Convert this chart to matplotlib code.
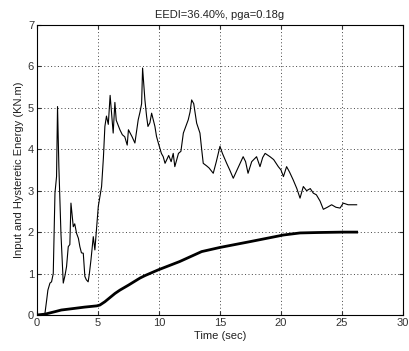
import matplotlib
matplotlib.use("Agg")
import matplotlib.pyplot as plt

# Input energy (thin line)
t_input = [0.0, 0.3, 0.6, 0.66, 0.8, 0.9, 1.07, 1.2, 1.34, 1.48, 1.61, 1.69, 1.8, 1.97, 2.16, 2.3,
           2.43, 2.57, 2.7, 2.79, 2.98, 3.1, 3.25, 3.4, 3.52, 3.65, 3.8, 3.93, 4.05, 4.2, 4.3, 4.43,
           4.62, 4.75, 5.03, 5.3, 5.45, 5.57, 5.7, 5.85, 6.0, 6.25, 6.39, 6.5, 6.8, 7.0, 7.2, 7.4,
           7.5, 7.8, 8.03, 8.3, 8.45, 8.58, 8.66, 8.85, 8.99, 9.1, 9.26, 9.4, 9.67, 9.8, 9.95, 10.2,
           10.35, 10.5, 10.8, 11.0, 11.17, 11.3, 11.6, 11.8, 12.0, 12.2, 12.4, 12.55, 12.68, 12.85,
           13.09, 13.36, 13.5, 13.63, 13.9, 14.1, 14.45, 14.7, 15.0, 15.2, 15.55, 15.8, 16.09, 16.4,
           16.9, 17.1, 17.3, 17.6, 18.0, 18.28, 18.5, 18.7, 19.1, 19.4, 19.78, 20.0, 20.2, 20.46,
           20.7, 21.0, 21.3, 21.56, 21.83, 22.1, 22.4, 22.65, 22.9, 23.2, 23.47, 23.8, 24.15, 24.5,
           24.84, 25.1, 25.5, 25.8, 26.2]
e_input = [0.0, 0.0, 0.02, 0.04, 0.36, 0.6, 0.77, 0.8, 1.0, 2.94, 3.34, 5.03, 3.58, 1.97, 0.77, 0.95,
           1.17, 1.65, 1.7, 2.7, 2.13, 2.2, 1.97, 1.85, 1.65, 1.5, 1.49, 0.93, 0.85, 0.8, 1.0, 1.33,
           1.89, 1.57, 2.62, 3.1, 3.8, 4.55, 4.8, 4.6, 5.3, 4.39, 5.13, 4.7, 4.47, 4.35, 4.3, 4.1,
           4.47, 4.3, 4.15, 4.71, 4.9, 5.1, 5.96, 5.19, 4.79, 4.55, 4.64, 4.87, 4.55, 4.31, 4.15, 3.9,
           3.82, 3.66, 3.85, 3.7, 3.9, 3.58, 3.9, 3.95, 4.39, 4.55, 4.71, 4.9, 5.19, 5.1,
           4.63, 4.39, 4.0, 3.66, 3.6, 3.55, 3.42, 3.7, 4.07, 3.9, 3.66, 3.5, 3.3, 3.5,
           3.82, 3.7, 3.42, 3.7, 3.82, 3.58, 3.8, 3.9, 3.82, 3.75, 3.58, 3.5, 3.34, 3.58,
           3.45, 3.26, 3.05, 2.82, 3.1, 3.0, 3.05, 2.94, 2.9, 2.75, 2.55, 2.6, 2.66, 2.6,
           2.58, 2.7, 2.66, 2.66, 2.66]

# Hysteretic energy (thick line)
t_hyst = [0.0, 0.66, 1.48, 2.0, 3.1, 3.9, 4.9, 5.16, 5.57, 6.4, 6.8, 7.5, 8.44, 8.85, 9.95,
          11.7, 13.5, 15.0, 17.46, 20.2, 21.56, 23.0, 25.1, 26.2]
e_hyst = [0.0, 0.02, 0.08, 0.12, 0.16, 0.19, 0.22, 0.24, 0.32, 0.52, 0.6, 0.72, 0.89, 0.95, 1.09,
          1.29, 1.53, 1.63, 1.77, 1.93, 1.98, 1.99, 2.0, 2.0]

x_ticks = [0, 5, 10, 15, 20, 25, 30]
y_ticks = [0, 1, 2, 3, 4, 5, 6, 7]

plt.rcParams['font.family'] = ['Liberation Sans', 'DejaVu Sans']
fig = plt.figure(figsize=(4.10, 3.51), dpi=100)
ax = fig.add_axes([0.09, 0.1026, 0.893, 0.8264])

ax.plot(t_input, e_input, color='black', lw=0.8)
ax.plot(t_hyst, e_hyst, color='black', lw=2.0)

ax.set_xlim(0, 30)
ax.set_ylim(0, 7)
ax.set_xticks(x_ticks)
ax.set_yticks(y_ticks)
ax.tick_params(direction='in', top=True, right=True, labelsize=8, colors='#333333', length=3, pad=2)
ax.grid(True, linestyle=(0, (1, 2.5)), color='#444444', lw=0.7)
for s in ax.spines.values():
    s.set_color('black')
    s.set_linewidth(0.8)

ax.set_title('EEDI=36.40%, pga=0.18g', fontsize=8, color='#222222', pad=5)
ax.set_xlabel('Time (sec)', fontsize=8, color='#222222', labelpad=2)
ax.set_ylabel('Input and Hysteretic Energy (KN.m)', fontsize=8, color='#222222', labelpad=3)

fig.savefig('out.png', dpi=100)
